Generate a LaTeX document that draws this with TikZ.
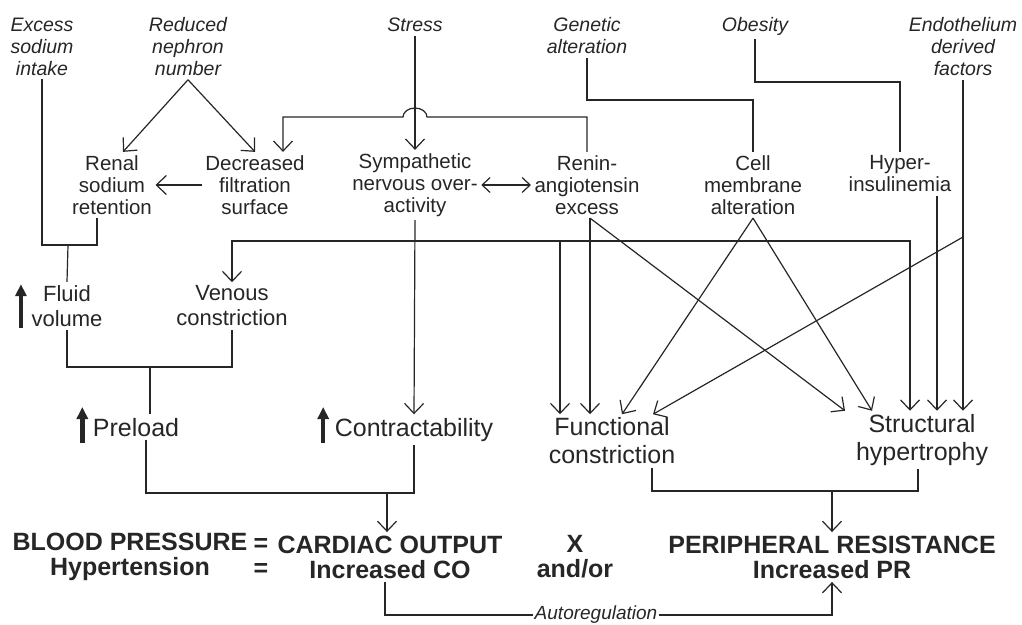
\documentclass[tikz,border=0pt]{standalone}
\usepackage{fontspec}
\setmainfont{Liberation Sans}
\usetikzlibrary{arrows.meta,calc}
\tikzstyle{cause}=[font=\fontsize{19.5}{22}\selectfont\itshape, align=center, inner sep=3pt]
\tikzstyle{factor}=[font=\fontsize{20.5}{22}\selectfont, align=center, inner sep=3pt]
\tikzstyle{effect}=[font=\fontsize{22}{25}\selectfont, align=center, inner sep=3pt]
\tikzstyle{result}=[font=\fontsize{25}{28}\selectfont, align=center, inner sep=3pt]
\tikzstyle{equation}=[font=\fontsize{25}{25}\selectfont\bfseries, align=center, inner sep=3pt]
\tikzstyle{autolab}=[font=\fontsize{19}{19}\selectfont\itshape, fill=white, inner sep=2pt]
\tikzstyle{arr}=[-{Straight Barb[length=10pt,width=19pt]}]
\tikzstyle{dbl}=[{Straight Barb[length=8pt,width=15pt]}-{Straight Barb[length=8pt,width=15pt]}]
\tikzstyle{upmark}=[line width=4.5pt, -{Triangle[length=12pt,width=11pt]}]

\begin{document}
\begin{tikzpicture}[x=1pt,y=-1pt, line width=1.2pt, draw=black!85, every node/.style={text=black!85}]
		\useasboundingbox (0,0) rectangle (1022,624);
		% causes
		\node[cause] (exc) at (42,47) {Excess\\sodium\\intake};
		\node[cause] (red) at (188,47) {Reduced\\nephron\\number};
		\node[cause] (stress) at (415,25) {Stress};
		\node[cause] (gen) at (587,36) {Genetic\\alteration};
		\node[cause] (obe) at (755,26) {Obesity};
		\node[cause] (endo) at (963,47) {Endothelium\\derived\\factors};
		% factors
		\node[factor] (ren) at (112,185) {Renal\\sodium\\retention};
		\node[factor] (dec) at (255,185) {Decreased\\filtration\\surface};
		\node[factor] (sym) at (415,185) {Sympathetic\\nervous over-\\activity};
		\node[factor] (rnn) at (587,185) {Renin-\\angiotensin\\excess};
		\node[factor] (cell) at (753,185) {Cell\\membrane\\alteration};
		\node[factor] (hyp) at (900,174) {Hyper-\\insulinemia};
		\node[effect] (fluid) at (67,306) {Fluid\\volume};
		\node[effect] (ven) at (232,306) {Venous\\constriction};
		\node[result, anchor=base] (pre) at (136,436) {Preload};
		\node[result, anchor=base] (con) at (414,436) {Contractability};
		\node[result] (fun) at (612,441) {Functional\\constriction};
		\node[result] (str) at (922,440) {Structural\\hypertrophy};
		% equation
		\node[equation] (bp) at (130,557) {BLOOD PRESSURE\\Hypertension};
		\node[equation] (eq) at (261,557) {=\\=};
		\node[equation] (co) at (390,557) {CARDIAC OUTPUT\\Increased CO};
		\node[equation] (times) at (575,557) {X\\and/or};
		\node[equation] (pr) at (832,557) {PERIPHERAL RESISTANCE\\Increased PR};
		\coordinate (jfl) at (68,245);
		\coordinate (hbus) at (590,241);
		\coordinate (jpl) at (150,367);
		\coordinate (jco) at (387,493);
		\coordinate (jpr) at (832,491);
		% kidney
		\draw (exc.south) |- (97,245) -- (ren.south -| 97,0);
		\draw (jfl) -- (fluid.north);
		\draw[arr] (red.south) -- ($(ren.north)+(11,0)$);
		\draw[arr] (red.south) -- (dec.north);
		\draw[arr] (dec.west) -- (ren.east);
		\draw[arr] (stress.south) -- (sym.north);
		\draw[arr] (rnn.north) |- (427,117) arc[start angle=0,end angle=180,x radius=12pt,y radius=9pt] -- (283,117) -- (dec.north -| 283,0);
		\draw[dbl] (sym.east) -- (rnn.west);
		\draw (gen.south) -- (gen.south |- 0,100) -| (cell.north);
		\draw (obe.south) -- (obe.south |- 0,82) -| (hyp.north);
		% vessels
		\draw[arr] (endo.south) -- (endo.south |- str.north);
		\draw[arr] (hyp.south -| 937,0) -- (str.north -| 937,0);
		\draw[arr] (endo.south |- 0,237) -- (fun.north -| 653,0);
		\draw[arr] (cell.south) -- (fun.north -| 622,0);
		\draw[arr] (cell.south) -- (str.north -| 872,0);
		\draw[arr] (rnn.south -| 590,0) -- (fun.north -| 590,0);
		\draw[arr] (rnn.south -| 590,0) -- (str.north -| 845,0);
		\draw[arr] (hbus) -| (ven.north);
		\draw[arr] (hbus) -| (str.north -| 910,0);
		\draw[arr] (hbus -| 560,0) -- (fun.north -| 560,0);
		\draw[arr] (sym.south) -- (con.north);
		% output
		\draw (fluid.south) |- (jpl) -| (ven.south);
		\draw (jpl) -- (pre.north -| jpl);
		\draw (pre.south -| 146,0) |- (jco) -| (con.south);
		\draw[arr] (jco) -- (co.north -| jco);
		\draw (fun.south -| 652,0) |- (jpr) -| (str.south -| 918,0);
		\draw[arr] (jpr) -- (pr.north -| jpr);
		\draw[arr] (co.south -| 385,0) -- (385,615) -| (pr.south -| 832,0);
		\node[autolab] (auto) at (596,615) {Autoregulation};
		% increase marks
		\draw[upmark] ($(fluid.south west)+(-7,-2)$) -- ($(fluid.south west)+(-7,-46)$);
		\draw[upmark] ($(pre.base west)+(-7,7)$) -- ($(pre.base west)+(-7,-29)$);
		\draw[upmark] ($(con.base west)+(-8,7)$) -- ($(con.base west)+(-8,-29)$);
	\end{tikzpicture}
\end{document}
